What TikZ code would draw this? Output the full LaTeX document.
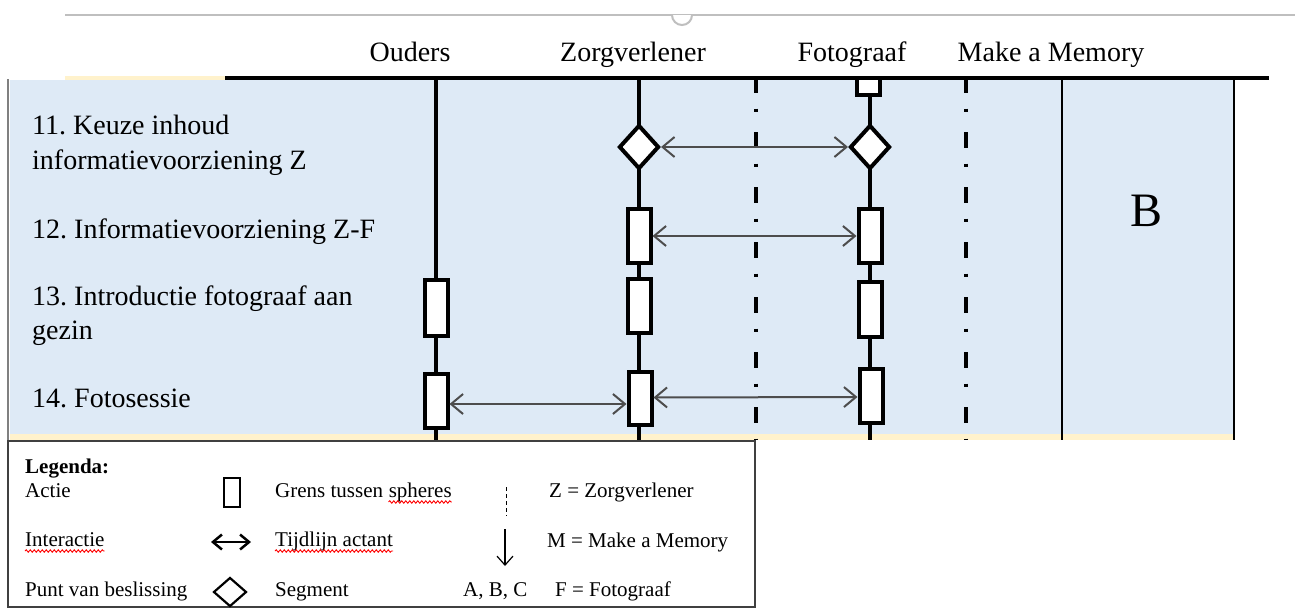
\documentclass[tikz,border=0pt]{standalone}
\usepackage{fontspec}
\setmainfont{Liberation Serif}
\usetikzlibrary{arrows.meta,shapes.geometric,decorations.pathmorphing}

\definecolor{laneblue}{HTML}{DEEAF6}
\definecolor{paleyellow}{HTML}{FFF2CC}
\definecolor{rulegray}{HTML}{BFBFBF}
\definecolor{arrowgray}{HTML}{4D4D4D}

\tikzset{
  lifeline/.style={line width=3.6pt, black},
  sphereline/.style={line width=3.5pt, black, dash pattern=on 16pt off 15.5pt on 3pt off 20.5pt},
  actbox/.style={rectangle, draw=black, fill=white, line width=4pt,
    minimum width=23pt, minimum height=54pt, inner sep=0pt},
  besluit/.style={diamond, draw=black, fill=white, line width=4pt,
    minimum width=40pt, minimum height=44pt, inner sep=0pt},
  interact/.style={arrowgray, line width=2pt,
    arrows={Straight Barb[length=12pt,width=20pt]-Straight Barb[length=12pt,width=20pt]}},
  hdr/.style={font=\fontsize{28}{32}\selectfont, anchor=base, inner sep=0pt},
  rowlbl/.style={font=\fontsize{28}{34}\selectfont, anchor=base west, inner sep=0pt},
  leg/.style={font=\fontsize{21}{25}\selectfont, anchor=base west, inner sep=0pt},
  spell/.style={red, line width=0.9pt, decorate,
    decoration={snake, amplitude=1.2pt, segment length=4pt}},
}

\begin{document}
\frenchspacing
\begin{tikzpicture}[x=1pt,y=-1pt]
  \useasboundingbox[fill=white] (0,0) rectangle (1295,608);

  % ruler line with tab marker
  \draw[rulegray, line width=2.5pt] (65,15) -- (1295,15);
  \begin{scope}
    \clip (660,15) rectangle (705,40);
    \draw[rulegray, line width=2pt, fill=white] (682,15) circle[radius=10];
  \end{scope}

  % column headers
  \node[hdr] (hO) at (410,61) {Ouders};
  \node[hdr] (hZ) at (633,61) {Zorgverlener};
  \node[hdr] (hF) at (852,61) {Fotograaf};
  \node[hdr] (hM) at (1051,61) {Make a Memory};

  % lane background
  \fill[laneblue] (10,80) rectangle (1234,435);
  \fill[paleyellow] (10,434) rectangle (1234,440);
  \fill[paleyellow] (65,76) rectangle (225,80);
  \draw[gray, line width=1.5pt] (8,79) -- (8,440);

  % lifelines
  \coordinate (Ot) at (436,78);  \coordinate (Ob) at (436,440);
  \coordinate (Zt) at (639,78);  \coordinate (Zb) at (639,440);
  \coordinate (Ft) at (870,78);  \coordinate (Fb) at (870,440);
  \coordinate (S1t) at (756,77); \coordinate (S1b) at (756,440);
  \coordinate (S2t) at (966,77); \coordinate (S2b) at (966,440);
  \coordinate (B1t) at (1062,78); \coordinate (B1b) at (1062,440);
  \coordinate (B2t) at (1234,78); \coordinate (B2b) at (1234,440);
  \draw[lifeline] (Ot) -- (Ob);
  \draw[lifeline] (Zt) -- (Zb);
  \draw[lifeline] (Ft) -- (Fb);
  \draw[sphereline] (S1t) -- (S1b);
  \draw[sphereline] (S2t) -- (S2b);
  \draw[line width=2.8pt] (B1t) -- (B1b);
  \draw[line width=2.8pt] (B2t) -- (B2b);

  % action carried over from the previous segment
  \node[actbox, minimum height=17pt] (Ftop) at (868,86) {};

  % header rule
  \draw[line width=3.5pt] (225,78) -- (1269,78);

  % actions and decision points
  \node[besluit] (Zd) at (639,147) {};
  \node[besluit] (Fd) at (870,147) {};
  \node[actbox] (Z2) at (639,236) {};
  \node[actbox] (F2) at (870,236) {};
  \node[actbox, minimum height=56pt] (O3) at (436,308) {};
  \node[actbox] (Z3) at (639,306) {};
  \node[actbox, minimum height=55pt] (F3) at (870,309.5) {};
  \node[actbox] (O4) at (436,401) {};
  \node[actbox, minimum height=53pt] (Z4) at (640,398.5) {};
  \node[actbox] (F4) at (871,396) {};

  % interactions
  \draw[interact] (Zd.east) -- (Fd.west);
  \draw[interact] (Z2.east) -- (F2.west);
  \draw[interact] ([yshift=-3pt]O4.east) -- ([yshift=-5.5pt]Z4.west);
  \draw[interact] ([yshift=1pt]Z4.east) -- ([yshift=-1pt]F4.west);

  % step labels
  \node[rowlbl] (r11a) at (32,134) {11. Keuze inhoud};
  \node[rowlbl] (r11b) at (32,169) {informatievoorziening Z};
  \node[rowlbl] (r12) at (32,238) {12. Informatievoorziening Z-F};
  \node[rowlbl] (r13a) at (32,305) {13. Introductie fotograaf aan};
  \node[rowlbl] (r13b) at (32,339) {gezin};
  \node[rowlbl] (r14) at (32,407) {14. Fotosessie};

  % segment letter
  \node[font=\fontsize{48}{52}\selectfont, inner sep=0pt] (segB) at (1146,211) {B};

  % legend
  \draw[draw=black!75, line width=1.2pt, fill=white] (8,441) rectangle (755,607);
  \node[leg, font=\fontsize{21}{25}\selectfont\bfseries] (lhead) at (25,473) {Legenda:};
  \node[leg] (lact) at (25,497) {Actie};
  \node[leg] (lint) at (25,546) {Interactie};
  \node[leg] (lpun) at (25,596) {Punt van beslissing};
  \node[leg] (lgr) at (275,497) {Grens tussen};
  \node[leg] (lsph) at ([xshift=5.25pt]lgr.base east) {spheres};
  \node[leg] (ltij) at (275,546) {Tijdlijn actant};
  \node[leg] (lseg) at (275,596) {Segment};
  \node[leg] (labc) at (463,596) {A, B, C};
  \node[leg] (lz) at (549,497) {Z = Zorgverlener};
  \node[leg] (lm) at (547,547) {M = Make a Memory};
  \node[leg] (lf) at (555,596) {F = Fotograaf};

  % legend symbols
  \node[actbox, line width=2pt, minimum width=16pt, minimum height=29pt] (legact) at (232,492) {};
  \coordinate (lia) at (211,542); \coordinate (lib) at (251,542);
  \draw[line width=2.5pt,
    arrows={Straight Barb[length=9pt,width=15pt]-Straight Barb[length=9pt,width=15pt]}] (lia) -- (lib);
  \node[besluit, line width=2.2pt, minimum width=33pt, minimum height=29pt] (legdia) at (230,592) {};
  \coordinate (lga) at (506,487); \coordinate (lgb) at (506,516);
  \draw[line width=1pt, dash pattern=on 4pt off 3pt] (lga) -- (lgb);
  \coordinate (lta) at (505,529); \coordinate (ltb) at (505,566);
  \draw[line width=1.2pt, arrows={-Straight Barb[length=9pt,width=16pt]}] (lta) -- (ltb);

  % spell-check underlines
  \draw[spell] ([yshift=-5pt]lint.base west) -- ([yshift=-5pt]lint.base east);
  \draw[spell] ([yshift=-5pt]lsph.base west) -- ([yshift=-5pt]lsph.base east);
  \draw[spell] ([yshift=-5pt]ltij.base west) -- ([yshift=-5pt]ltij.base east);
\end{tikzpicture}
\end{document}
